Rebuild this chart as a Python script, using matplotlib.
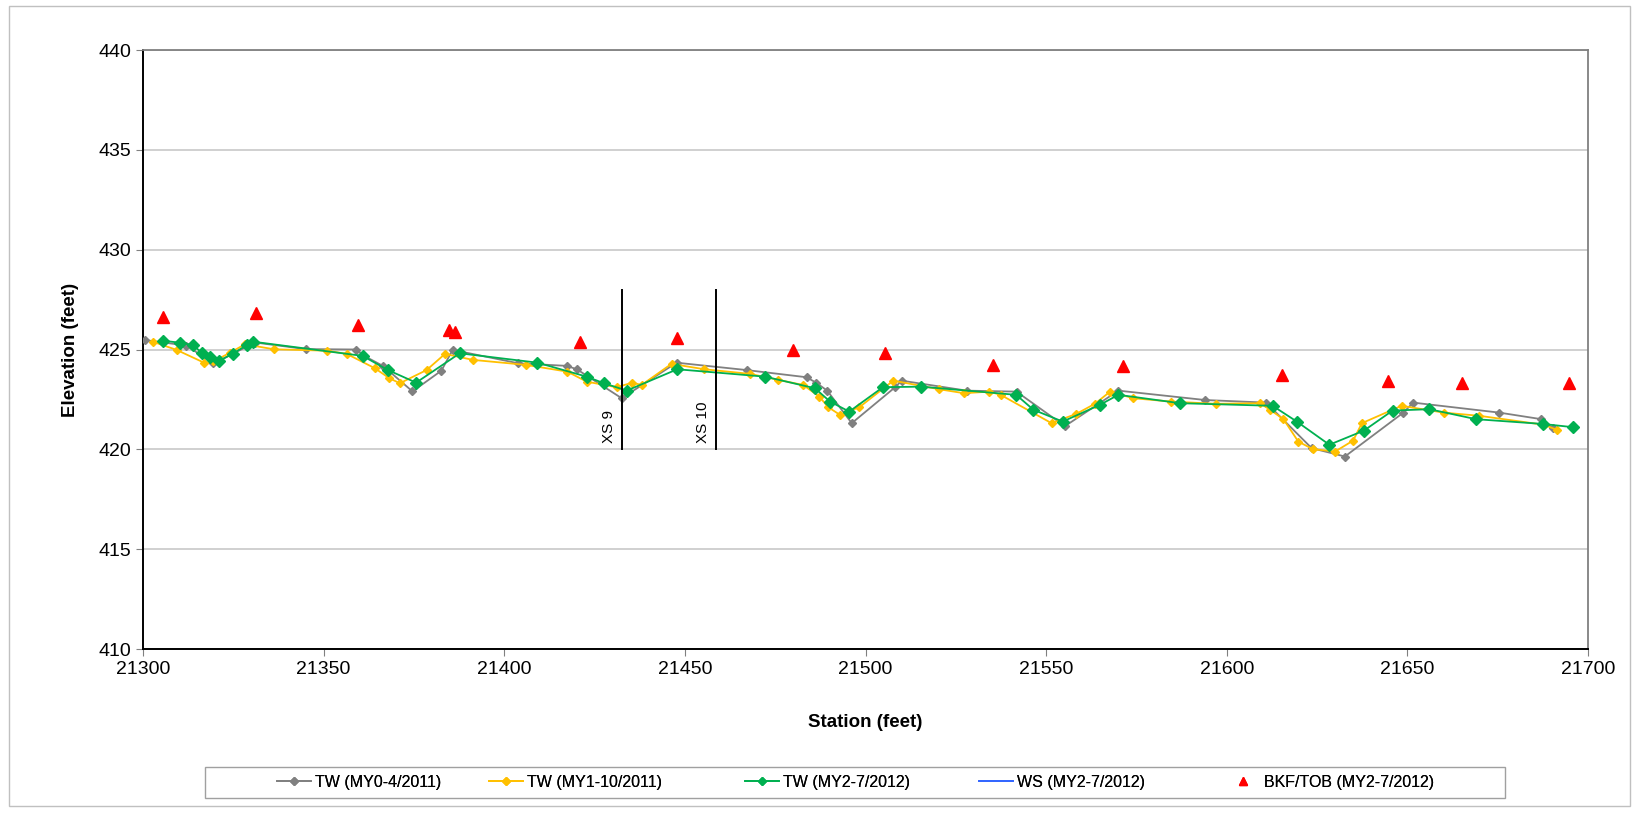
import matplotlib

matplotlib.use("Agg")
import matplotlib.pyplot as plt  # noqa: E402
from matplotlib.patches import Rectangle  # noqa: E402

plt.rcParams["font.family"] = ["Liberation Sans", "DejaVu Sans"]

# thalweg surveys (station ft, elevation ft)
tw_my0_sta = [21300.6, 21312.0, 21319.5, 21331.0, 21345.1, 21359.0, 21361.0, 21366.5, 21374.6,
              21382.6, 21385.7, 21403.9, 21417.3, 21420.1, 21432.5, 21447.7, 21467.1, 21483.7,
              21486.3, 21489.4, 21496.2, 21508.2, 21510.0, 21528.0, 21541.8, 21555.2, 21570.0,
              21594.0, 21610.9, 21623.5, 21632.7, 21648.9, 21651.6, 21675.4, 21687.1, 21690.3]
tw_my0_elev = [425.47, 425.20, 424.30, 425.35, 425.02, 425.00, 424.70, 424.17, 422.90,
               423.94, 424.98, 424.31, 424.18, 424.01, 422.56, 424.34, 423.97, 423.61,
               423.34, 422.94, 421.31, 423.11, 423.44, 422.94, 422.89, 421.16, 422.94,
               422.47, 422.34, 420.06, 419.64, 421.84, 422.34, 421.84, 421.51, 421.06]

tw_my1_sta = [21302.7, 21309.3, 21316.9, 21319.5, 21324.1, 21328.2, 21336.3, 21351.0, 21356.4,
              21364.2, 21368.2, 21371.1, 21378.5, 21383.6, 21391.3, 21406.0, 21417.5, 21422.8,
              21431.1, 21435.5, 21438.0, 21446.3, 21455.4, 21468.0, 21475.9, 21482.8, 21487.2,
              21489.7, 21492.9, 21498.3, 21507.7, 21520.4, 21527.3, 21534.3, 21537.4, 21551.5,
              21558.4, 21563.5, 21567.7, 21574.1, 21584.7, 21597.0, 21609.2, 21612.0, 21615.7,
              21619.8, 21623.8, 21630.0, 21635.0, 21637.4, 21648.4, 21660.0, 21669.9, 21687.8,
              21691.3]
tw_my1_elev = [425.39, 424.98, 424.34, 424.40, 424.84, 425.26, 425.01, 424.94, 424.78,
               424.06, 423.56, 423.31, 423.97, 424.78, 424.48, 424.23, 423.89, 423.39,
               423.11, 423.34, 423.22, 424.28, 424.01, 423.78, 423.48, 423.22, 422.64,
               422.11, 421.73, 422.11, 423.44, 423.01, 422.81, 422.89, 422.73, 421.31,
               421.78, 422.28, 422.89, 422.56, 422.39, 422.28, 422.31, 421.98, 421.51,
               420.39, 420.01, 419.89, 420.44, 421.31, 422.18, 421.84, 421.68, 421.23,
               420.98]

tw_my2_sta = [21305.6, 21310.2, 21313.9, 21316.2, 21318.5, 21321.1, 21324.8, 21328.7, 21330.5,
              21360.8, 21367.7, 21375.6, 21387.7, 21409.2, 21422.8, 21427.6, 21433.9, 21447.9,
              21472.2, 21486.0, 21490.2, 21495.5, 21504.8, 21515.3, 21541.7, 21546.5, 21554.6,
              21564.9, 21570.0, 21587.1, 21612.7, 21619.4, 21628.4, 21638.0, 21645.9, 21656.1,
              21669.0, 21687.6, 21695.8]
tw_my2_elev = [425.44, 425.34, 425.22, 424.84, 424.61, 424.43, 424.78, 425.22, 425.39,
               424.68, 423.98, 423.34, 424.81, 424.34, 423.64, 423.31, 422.94, 424.01,
               423.64, 423.06, 422.39, 421.89, 423.11, 423.14, 422.73, 421.98, 421.39,
               422.23, 422.73, 422.31, 422.18, 421.39, 420.23, 420.94, 421.94, 422.01,
               421.51, 421.27, 421.11]

# water surface MY2 - no points surveyed
ws_my2_sta = []
ws_my2_elev = []

# bankfull / top of bank
bkf_sta = [21305.4, 21331.3, 21359.6, 21384.8, 21386.4, 21421.0, 21447.7, 21479.8,
           21505.4, 21535.4, 21571.2, 21615.2, 21644.7, 21665.0, 21694.8]
bkf_elev = [426.64, 426.81, 426.23, 425.98, 425.89, 425.39, 425.56, 425.00,
            424.84, 424.22, 424.17, 423.70, 423.42, 423.34, 423.31]

# cross-section locations
xs_sta = [21432.5, 21458.6]
xs_labels = ["XS 9", "XS 10"]
xs_range = (420, 428)

W, H = 1638, 813
fig = plt.figure(figsize=(W / 100, H / 100), dpi=100)
fig.patches.append(Rectangle((9 / W, 1 - 806 / H), 1621 / W, 800 / H, transform=fig.transFigure,
                             fill=False, edgecolor="#c0c0c0", lw=1))
ax = fig.add_axes([143 / W, 1 - 649 / H, 1445 / W, 599 / H])

handles = []
handles += ax.plot(tw_my0_sta, tw_my0_elev, color="#808080", lw=1.3, marker="D", ms=4,
                   label="TW (MY0-4/2011)", zorder=3)
handles += ax.plot(tw_my1_sta, tw_my1_elev, color="#FFC000", lw=1.3, marker="D", ms=4.3,
                   label="TW (MY1-10/2011)", zorder=4)
handles += ax.plot(tw_my2_sta, tw_my2_elev, color="#00B050", lw=1.3, marker="D", ms=6.5,
                   label="TW (MY2-7/2012)", zorder=5)
handles += ax.plot(ws_my2_sta, ws_my2_elev, color="#3366FF", lw=1.3, label="WS (MY2-7/2012)")
handles += ax.plot(bkf_sta, bkf_elev, ls="none", marker="^", ms=9, color="#FF0000",
                   label="BKF/TOB (MY2-7/2012)", zorder=6)

for s, lab in zip(xs_sta, xs_labels):
    ax.plot([s, s], xs_range, color="black", lw=1.4, zorder=7)
    ax.text(s - 1.6, xs_range[0] + 0.3, lab, rotation=90, ha="right", va="bottom", fontsize=11)

ax.set_xlim(21300, 21700)
ax.set_ylim(410, 440)
ax.set_xticks(range(21300, 21701, 50))
ax.set_yticks(range(410, 441, 5))
ax.yaxis.grid(True, color="#c8c8c8", lw=1.2)
ax.set_axisbelow(True)
ax.tick_params(labelsize=14, length=5, color="#808080", direction="out")
for side in ("top", "right"):
    ax.spines[side].set_color("#808080")
    ax.spines[side].set_linewidth(1.3)
for side in ("left", "bottom"):
    ax.spines[side].set_color("black")
    ax.spines[side].set_linewidth(1.4)

ax.set_xlabel("Station (feet)", fontsize=13.5, fontweight="bold", labelpad=26)
ax.set_ylabel("Elevation (feet)", fontsize=13.5, fontweight="bold", labelpad=14)

# legend: one framed box, entries spaced out like the spreadsheet layout
fig.patches.append(Rectangle((205 / W, 1 - 798 / H), 1300 / W, 31 / H, transform=fig.transFigure,
                             fill=False, edgecolor="#a0a0a0", lw=1))
entry_x = [277, 489, 745, 979, 1226]
entry_scale = [1.0, 1.0, 0.65, 1.0, 0.6]
for h, x, sc in zip(handles, entry_x, entry_scale):
    lg = fig.legend(handles=[h], loc="center left", bbox_to_anchor=(x / W, 1 - 782 / H),
                    fontsize=11.5, frameon=False, handlelength=2.1, handletextpad=0.3,
                    borderpad=0, borderaxespad=0, markerscale=sc)
    fig.add_artist(lg)

fig.savefig("out.png", dpi=100)
